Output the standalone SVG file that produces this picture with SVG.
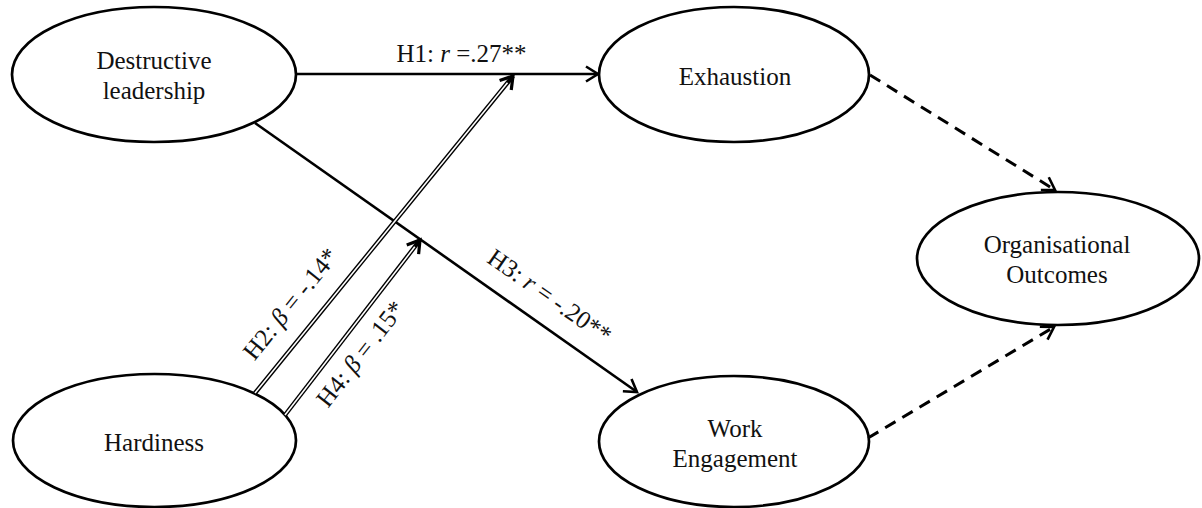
<svg xmlns="http://www.w3.org/2000/svg" width="1202" height="508" viewBox="0 0 1202 508">
<style>
.node ellipse{fill:#fff;stroke:#000;stroke-width:2.7}
text{font-family:"Liberation Serif","Times New Roman",serif;font-size:25px;fill:#111}
.nt{text-anchor:middle}
.ln{fill:none;stroke:#000;stroke-width:2.6}
.dash{fill:none;stroke:#000;stroke-width:3;stroke-dasharray:12 8}
.dbl{fill:none;stroke:#000;stroke-width:4.4}
.dblw{fill:none;stroke:#fff;stroke-width:1.6}
.lab{text-anchor:middle}
</style>
<defs>
<marker id="arr" markerUnits="userSpaceOnUse" markerWidth="30" markerHeight="30" viewBox="-15 -15 30 30" refX="0" refY="0" orient="auto" overflow="visible">
<path d="M-12,-7.5 L0,0 L-12,7.5" fill="none" stroke="#000" stroke-width="2.6"/>
</marker>
<marker id="arrb" markerUnits="userSpaceOnUse" markerWidth="30" markerHeight="30" viewBox="-15 -15 30 30" refX="0" refY="0" orient="auto" overflow="visible">
<path d="M-12,-7.5 L0,0 L-12,7.5" fill="none" stroke="#000" stroke-width="3.2"/>
</marker>
</defs>
<rect width="1202" height="508" fill="#fff"/>

<g id="destructive-leadership" class="node">
<ellipse cx="154" cy="74.5" rx="142" ry="67.5"/>
<text class="nt" x="154" y="69">Destructive</text>
<text class="nt" x="154" y="99">leadership</text>
</g>
<g id="exhaustion" class="node">
<ellipse cx="734" cy="74.5" rx="135" ry="67.5"/>
<text class="nt" x="735" y="85">Exhaustion</text>
</g>
<g id="organisational-outcomes" class="node">
<ellipse cx="1058" cy="258.5" rx="141" ry="66.5"/>
<text class="nt" x="1057" y="253">Organisational</text>
<text class="nt" x="1057" y="283">Outcomes</text>
</g>
<g id="work-engagement" class="node">
<ellipse cx="734" cy="441.5" rx="135" ry="65.5"/>
<text class="nt" x="735" y="437">Work</text>
<text class="nt" x="735" y="467">Engagement</text>
</g>
<g id="hardiness" class="node">
<ellipse cx="154.5" cy="440.5" rx="141.5" ry="66.5"/>
<text class="nt" x="154" y="451">Hardiness</text>
</g>

<g id="connectors">
<line class="ln" x1="296" y1="74" x2="598" y2="74" marker-end="url(#arr)"/>
<line class="ln" x1="255" y1="123" x2="637" y2="392" marker-end="url(#arr)"/>
<line class="dash" x1="870" y1="75" x2="1055" y2="190" marker-end="url(#arr)"/>
<line class="dash" x1="868" y1="438" x2="1054" y2="327" marker-end="url(#arr)"/>
<line class="dbl" x1="255" y1="393" x2="513" y2="76" marker-end="url(#arrb)"/>
<line class="dblw" x1="255" y1="393" x2="507.5" y2="82.8"/>
<line class="dbl" x1="285" y1="415" x2="420" y2="240" marker-end="url(#arrb)"/>
<line class="dblw" x1="285" y1="415" x2="414.8" y2="246.8"/>
<text class="lab" x="461.5" y="62">H1: <tspan font-style="italic">r</tspan> =.27**</text>
<text class="lab" transform="translate(297,309) rotate(-51)">H2: <tspan font-style="italic">β</tspan> = -.14*</text>
<text class="lab" transform="translate(367,359) rotate(-52)">H4: <tspan font-style="italic">β</tspan> = .15*</text>
<text class="lab" transform="translate(545,303) rotate(35)">H3: <tspan font-style="italic">r</tspan> = -.20**</text>
</g>
</svg>
